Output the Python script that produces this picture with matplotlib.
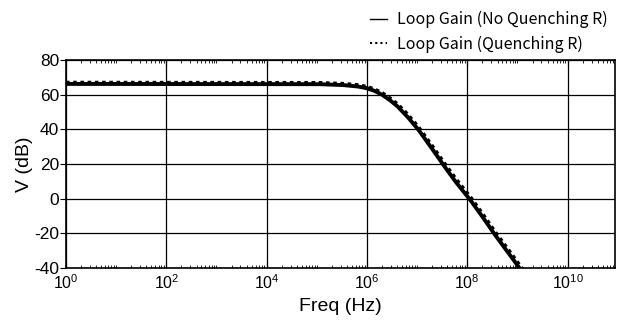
import numpy as np
import matplotlib.pyplot as plt
from matplotlib.ticker import LogLocator, NullFormatter

# values (log10 of frequency, gain in dB)
logf_nq = [0, 5.0, 5.5, 5.8, 6.0, 6.15, 6.3, 6.45, 6.6, 6.8, 7.02, 7.25, 7.5, 7.75, 8.04, 8.28, 8.53, 8.8, 9.04, 9.1]
gain_nq = [66.2, 66.1, 65.6, 64.8, 63.7, 62.2, 60.0, 57.0, 53.5, 47.5, 40.0, 30.8, 20.4, 10.4, 0.0, -9.5, -20.0, -30.5, -40.0, -42.5]

logf_q = [0, 5.0, 5.5, 5.8, 6.0, 6.15, 6.3, 6.45, 6.6, 6.8, 7.02, 7.25, 7.5, 7.75, 8.04, 8.28, 8.53, 8.8, 9.04, 9.15]
gain_q = [67.0, 66.9, 66.4, 65.7, 64.6, 63.2, 61.1, 58.2, 54.8, 49.0, 41.6, 32.5, 22.2, 12.2, 1.8, -7.7, -18.2, -28.7, -38.2, -42.5]

labels = ["Loop Gain (No Quenching R)", "Loop Gain (Quenching R)"]
yticks = [-40, -20, 0, 20, 40, 60, 80]
xticks = [1e0, 1e2, 1e4, 1e6, 1e8, 1e10]

plt.rcParams["font.family"] = ["Liberation Sans", "DejaVu Sans"]
plt.rcParams["axes.unicode_minus"] = False
plt.rcParams["mathtext.fontset"] = "custom"
plt.rcParams["mathtext.rm"] = "Liberation Sans"

fig = plt.figure(figsize=(6.38, 3.25), dpi=100)
ax = fig.add_axes([0.1034, 0.1754, 0.861, 0.64])

# dense curve through the read points (linear in log-frequency)
x_nq = np.linspace(logf_nq[0], logf_nq[-1], 600)
x_q = np.linspace(logf_q[0], logf_q[-1], 600)
ax.plot(10 ** x_nq, np.interp(x_nq, logf_nq, gain_nq), color="black", lw=2.8, solid_capstyle="butt")
ax.plot(10 ** x_q, np.interp(x_q, logf_q, gain_q), color="black", lw=2.6, ls=(0, (1, 1)))

ax.set_xscale("log")
ax.set_xlim(1, 10 ** 10.95)
ax.set_ylim(-40, 80)
ax.set_xticks(xticks)
ax.set_yticks(yticks)
ax.xaxis.set_minor_locator(LogLocator(base=10, subs=np.arange(1, 10), numticks=100))
ax.xaxis.set_minor_formatter(NullFormatter())
ax.grid(True, which="major", color="black", lw=0.9)
ax.tick_params(which="both", direction="in", top=True, right=True)
ax.tick_params(axis="x", which="major", length=4, labelsize=11.5, pad=4)
ax.tick_params(axis="x", which="minor", length=2.5)
ax.tick_params(axis="y", which="major", direction="out", length=4, labelsize=12.5, pad=1)
ax.tick_params(axis="y", which="major", right=False)
for s in ax.spines.values():
    s.set_linewidth(1.2)

ax.set_xlabel("Freq (Hz)", fontsize=14, labelpad=4)
ax.set_ylabel("V (dB)", fontsize=14, labelpad=1)

h1 = plt.Line2D([], [], color="black", lw=1.0)
h2 = plt.Line2D([], [], color="black", lw=1.5, ls=(0, (1, 1.5)))
fig.legend([h1, h2], labels, loc="upper right", bbox_to_anchor=(0.965, 0.99),
           frameon=False, handlelength=1.1, handletextpad=0.6, labelspacing=0.45,
           prop={"family": ["Noto Sans CJK KR", "DejaVu Sans"], "size": 11.5},
           borderaxespad=0.1)

fig.savefig("out.png", dpi=100)
